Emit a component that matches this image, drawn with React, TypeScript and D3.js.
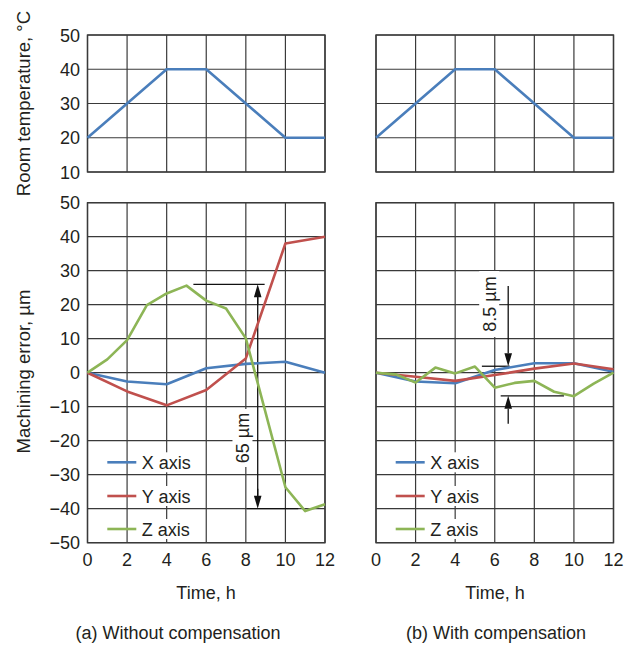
import React from "react";
import * as d3 from "d3";

// room temperature profile (same for both tests)
const tempHours = [0, 2, 4, 6, 8, 10, 12];
const roomTemp = [20, 30, 40, 40, 30, 20, 20];

// (a) without compensation
const xyHours = [0, 2, 4, 6, 8, 10, 12];
const errXNoComp = [0, -2.6, -3.4, 1.3, 2.6, 3.2, 0];
const errYNoComp = [0, -5.5, -9.6, -5.1, 4.2, 38, 40];
const zHoursNoComp = [0, 1, 2, 3, 4, 5, 6, 7, 8, 10, 11, 12];
const errZNoComp = [0, 3.9, 9.6, 19.9, 23.3, 25.6, 21.2, 18.9, 10.1, -33.7, -40.7, -38.7];

// (b) with compensation
const errXComp = [0, -2.6, -3.1, 0.8, 2.8, 2.8, 0.3];
const errYComp = [0, -1.2, -2.4, -0.7, 1.2, 2.7, 1.0];
const zHoursComp = [0, 1, 2, 3, 4, 5, 6, 7, 8, 9, 10, 11, 12];
const errZComp = [0, -0.5, -2.9, 1.5, -0.2, 1.8, -4.4, -3.0, -2.4, -5.6, -6.9, -3.2, 0];

const timeTicks = [0, 2, 4, 6, 8, 10, 12];
const tempTicks = [10, 20, 30, 40, 50];
const errTicks = [-50, -40, -30, -20, -10, 0, 10, 20, 30, 40, 50];
const legendNames = ["X axis", "Y axis", "Z axis"];
const colors = ["#4a7ebb", "#c0504d", "#8db556"];

// dimension annotations: [hour, value]
const spanA = { hour: 8.6, top: 26, bottom: -40, topLine: [5.35, 8.95], bottomLine: [8.05, 10.65], label: "65 µm", labelHour: 7.83, labelValue: -19.2 };
const spanB = { hour: 6.68, top: 1.9, bottom: -6.8, tailTop: 25.5, tailBottom: -15, topLine: [5.35, 6.75], bottomLine: [6.3, 9.5], label: "8.5 µm", labelHour: 5.72, labelValue: 20.2 };

const FONT = "'Liberation Sans', Arial, Helvetica, sans-serif";
const TXT = "#231f20";
const GRID = "#3a3a3a";

const topY = d3.scaleLinear().domain([10, 50]).range([172, 35]);
const botY = d3.scaleLinear().domain([-50, 50]).range([542.7, 202.7]);

const fmt = (t: number) => (t < 0 ? `\u2212${-t}` : `${t}`);

function Grid({ x, y, yTicks }: any) {
  const [x0, x1] = x.range();
  const [y0, y1] = y.range();
  return (
    <g stroke={GRID} strokeWidth={1.2} fill="none">
      {timeTicks.map((t) => (
        <line key={"v" + t} x1={x(t)} x2={x(t)} y1={y0} y2={y1} />
      ))}
      {yTicks.map((t: number) => (
        <line key={"h" + t} x1={x0} x2={x1} y1={y(t)} y2={y(t)} />
      ))}
      <rect x={x0} y={y1} width={x1 - x0} height={y0 - y1} strokeWidth={1.4} />
    </g>
  );
}

function Series({ x, y, hrs, vals, color }: any) {
  const line = d3
    .line<number>()
    .x((_, i) => x(hrs[i]))
    .y((d) => y(d));
  return <path d={line(vals) || ""} fill="none" stroke={color} strokeWidth={2.6} strokeLinejoin="round" />;
}

function Arrow({ x, yTip, yTail }: any) {
  const dir = yTail > yTip ? 1 : -1;
  const head = 13;
  const hw = 3.8;
  return (
    <g>
      <line x1={x} x2={x} y1={yTail} y2={yTip + dir * head} stroke="#111" strokeWidth={1.3} />
      <path d={`M${x},${yTip} L${x - hw},${yTip + dir * head} L${x + hw},${yTip + dir * head} Z`} fill="#111" />
    </g>
  );
}

function VLabel({ cx, cy, text, w, h }: any) {
  return (
    <g transform={`translate(${cx},${cy}) rotate(-90)`}>
      <rect x={-w / 2} y={-h / 2} width={w} height={h} fill="#fff" />
      <text x={0} y={6.5} textAnchor="middle" fontSize={18} fill={TXT}>
        {text}
      </text>
    </g>
  );
}

function Legend({ x0 }: any) {
  const rows = [462.3, 496, 529];
  return (
    <g>
      {legendNames.map((n, i) => (
        <g key={n}>
          <rect x={x0 + 33} y={rows[i] - 10} width={56} height={20} fill="#fff" />
          <line x1={x0} x2={x0 + 29} y1={rows[i]} y2={rows[i]} stroke={colors[i]} strokeWidth={2.6} />
          <text x={x0 + 34.5} y={rows[i] + 6.5} fontSize={18} fill={TXT}>
            {n}
          </text>
        </g>
      ))}
    </g>
  );
}

export default function App() {
  const xa = d3.scaleLinear().domain([0, 12]).range([87.5, 325]);
  const xb = d3.scaleLinear().domain([0, 12]).range([376, 613.5]);

  return (
    <svg width={634} height={645} style={{ position: "absolute", left: 0, top: 0, background: "#fff" }} fontFamily={FONT}>
      <rect width={634} height={645} fill="#fff" />

      {/* y axis titles */}
      <text transform={`translate(29.5,103.5) rotate(-90)`} textAnchor="middle" fontSize={18.5} fill={TXT}>
        Room temperature, °C
      </text>
      <text transform={`translate(29.5,371.5) rotate(-90)`} textAnchor="middle" fontSize={18.5} fill={TXT}>
        Machining error, µm
      </text>

      {/* y tick labels */}
      {tempTicks.map((t) => (
        <text key={"tt" + t} x={80} y={topY(t) + 6.5} textAnchor="end" fontSize={18} fill={TXT}>
          {fmt(t)}
        </text>
      ))}
      {errTicks.map((t) => (
        <text key={"et" + t} x={80} y={botY(t) + 6.5} textAnchor="end" fontSize={18} fill={TXT}>
          {fmt(t)}
        </text>
      ))}

      {/* grids */}
      <Grid x={xa} y={topY} yTicks={tempTicks} />
      <Grid x={xb} y={topY} yTicks={tempTicks} />
      <Grid x={xa} y={botY} yTicks={errTicks} />
      <Grid x={xb} y={botY} yTicks={errTicks} />

      {/* temperature */}
      <Series x={xa} y={topY} hrs={tempHours} vals={roomTemp} color={colors[0]} />
      <Series x={xb} y={topY} hrs={tempHours} vals={roomTemp} color={colors[0]} />

      {/* (a) annotation */}
      <g stroke="#111" strokeWidth={1.3}>
        <line x1={xa(spanA.topLine[0])} x2={xa(spanA.topLine[1])} y1={botY(spanA.top)} y2={botY(spanA.top)} />
        <line x1={xa(spanA.bottomLine[0])} x2={xa(spanA.bottomLine[1])} y1={botY(spanA.bottom)} y2={botY(spanA.bottom)} />
      </g>
      <line x1={xa(spanA.hour)} x2={xa(spanA.hour)} y1={botY(spanA.top) + 12} y2={botY(spanA.bottom) - 12} stroke="#111" strokeWidth={1.3} />
      <Arrow x={xa(spanA.hour)} yTip={botY(spanA.top)} yTail={botY(spanA.top) + 20} />
      <Arrow x={xa(spanA.hour)} yTip={botY(spanA.bottom)} yTail={botY(spanA.bottom) - 20} />
      <VLabel cx={xa(spanA.labelHour)} cy={botY(spanA.labelValue)} text={spanA.label} w={58} h={20} />

      {/* (b) annotation */}
      <g stroke="#111" strokeWidth={1.3}>
        <line x1={xb(spanB.topLine[0])} x2={xb(spanB.topLine[1])} y1={botY(spanB.top)} y2={botY(spanB.top)} />
        <line x1={xb(spanB.bottomLine[0])} x2={xb(spanB.bottomLine[1])} y1={botY(spanB.bottom)} y2={botY(spanB.bottom)} />
      </g>
      <Arrow x={xb(spanB.hour)} yTip={botY(spanB.top)} yTail={botY(spanB.tailTop)} />
      <Arrow x={xb(spanB.hour)} yTip={botY(spanB.bottom)} yTail={botY(spanB.tailBottom)} />
      <VLabel cx={xb(spanB.labelHour)} cy={botY(spanB.labelValue)} text={spanB.label} w={66} h={20} />

      {/* error series */}
      <Series x={xa} y={botY} hrs={xyHours} vals={errXNoComp} color={colors[0]} />
      <Series x={xa} y={botY} hrs={xyHours} vals={errYNoComp} color={colors[1]} />
      <Series x={xa} y={botY} hrs={zHoursNoComp} vals={errZNoComp} color={colors[2]} />
      <Series x={xb} y={botY} hrs={xyHours} vals={errXComp} color={colors[0]} />
      <Series x={xb} y={botY} hrs={xyHours} vals={errYComp} color={colors[1]} />
      <Series x={xb} y={botY} hrs={zHoursComp} vals={errZComp} color={colors[2]} />

      <Legend x0={107.3} />
      <Legend x0={395.7} />

      {/* x tick labels */}
      {[xa, xb].map((x, k) =>
        timeTicks.map((t) => (
          <text key={k + "x" + t} x={x(t)} y={566} textAnchor="middle" fontSize={18} fill={TXT}>
            {t}
          </text>
        ))
      )}
      <text x={206} y={598.5} textAnchor="middle" fontSize={18} fill={TXT}>Time, h</text>
      <text x={495} y={598.5} textAnchor="middle" fontSize={18} fill={TXT}>Time, h</text>
      <text x={178} y={639} textAnchor="middle" fontSize={18} fill={TXT}>(a) Without compensation</text>
      <text x={496} y={639} textAnchor="middle" fontSize={18} fill={TXT}>(b) With compensation</text>
    </svg>
  );
}
